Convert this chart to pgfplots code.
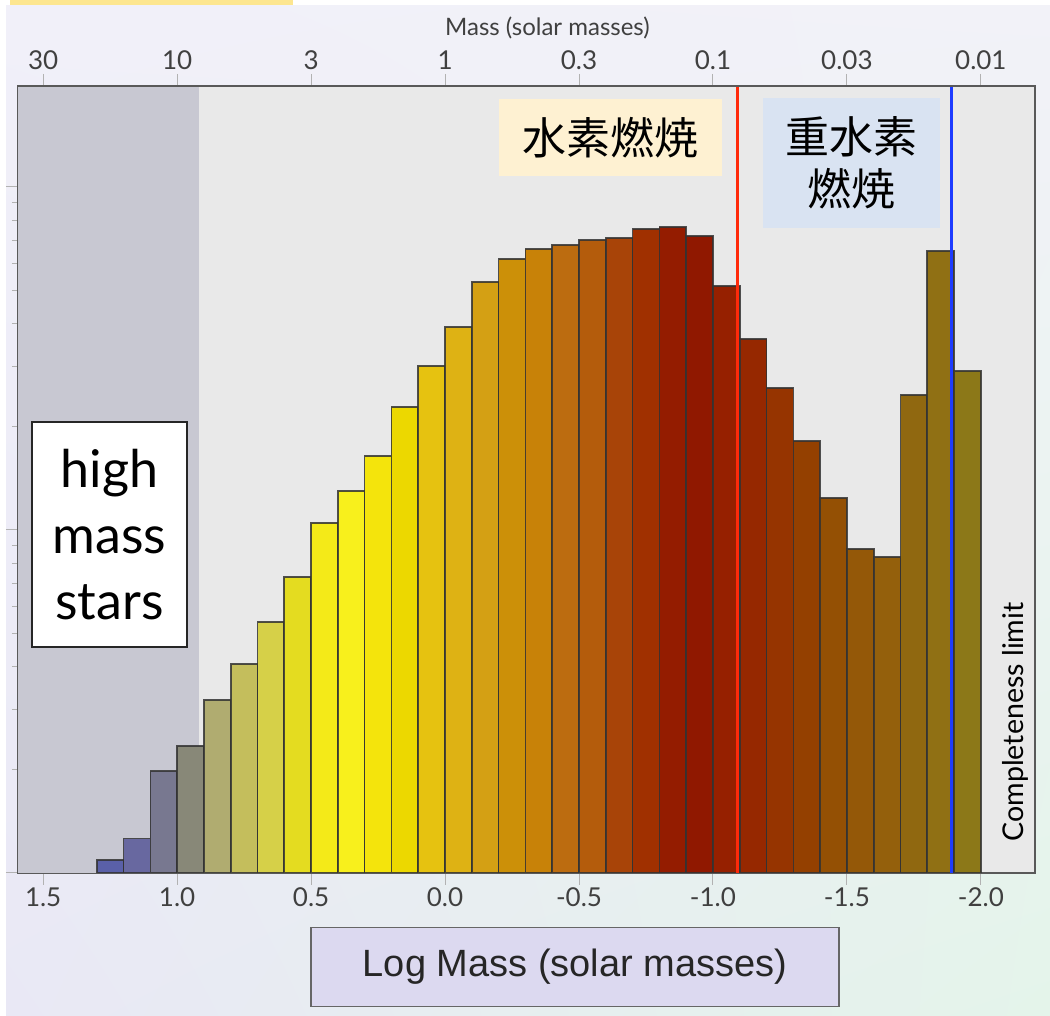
\documentclass[border=0pt]{standalone}
\usepackage{pgfplots}
\pgfplotsset{compat=1.18}
\usetikzlibrary{shadings}
\usepackage{fontspec}
\setmainfont{Lato}
\newfontfamily\cjk{Noto Sans CJK JP}
\newfontfamily\arialf{Liberation Sans}
\definecolor{bgUL}{HTML}{F1F0F9}
\definecolor{bgUR}{HTML}{F2F2F8}
\definecolor{bgLL}{HTML}{E9E8F5}
\definecolor{bgLR}{HTML}{E4F4EA}
\definecolor{topyellow}{HTML}{FDE690}
\definecolor{plotbg}{HTML}{E9E9E9}
\definecolor{highgrey}{HTML}{C8C8D2}
\definecolor{labelbg}{HTML}{DCD9F0}
\definecolor{hbg}{HTML}{FEF1D2}
\definecolor{dbg}{HTML}{D9E3F2}
\definecolor{hline}{HTML}{FF2A0A}
\definecolor{dline}{HTML}{1E3CFF}
\definecolor{c1}{HTML}{5A60A8}
\definecolor{c2}{HTML}{6868A0}
\definecolor{c3}{HTML}{787890}
\definecolor{c4}{HTML}{888878}
\definecolor{c5}{HTML}{B0AC70}
\definecolor{c6}{HTML}{C4BE5C}
\definecolor{c7}{HTML}{D6D048}
\definecolor{c8}{HTML}{E4DC20}
\definecolor{c9}{HTML}{F4EA18}
\definecolor{c10}{HTML}{F8F01C}
\definecolor{c11}{HTML}{F4E40C}
\definecolor{c12}{HTML}{ECD800}
\definecolor{c13}{HTML}{E6C210}
\definecolor{c14}{HTML}{DEB214}
\definecolor{c15}{HTML}{D4A014}
\definecolor{c16}{HTML}{CC9008}
\definecolor{c17}{HTML}{C88208}
\definecolor{c18}{HTML}{BC6C10}
\definecolor{c19}{HTML}{B45C0C}
\definecolor{c20}{HTML}{A84408}
\definecolor{c21}{HTML}{A03000}
\definecolor{c22}{HTML}{941C00}
\definecolor{c23}{HTML}{901800}
\definecolor{c24}{HTML}{962000}
\definecolor{c25}{HTML}{962800}
\definecolor{c26}{HTML}{963400}
\definecolor{c27}{HTML}{944000}
\definecolor{c28}{HTML}{945004}
\definecolor{c29}{HTML}{945808}
\definecolor{c30}{HTML}{94600C}
\definecolor{c31}{HTML}{906810}
\definecolor{c32}{HTML}{907014}
\definecolor{c33}{HTML}{8C7818}
\newcommand{\mybar}[3]{\addplot[fill=#1, draw=black!80, draw opacity=0.85, line width=0.8pt] coordinates {(#2,#3)};}
\begin{document}
\begin{tikzpicture}
\path[use as bounding box] (-9pt,-71.5pt) rectangle (516pt,436.5pt);
\shade[upper left=bgUL, upper right=bgUR, lower left=bgLL, lower right=bgLR] (-9pt,-71.5pt) rectangle (516pt,436.5pt);
\fill[white] (-9pt,434pt) rectangle (516pt,436.5pt);
\fill[white] (-9pt,-71.5pt) rectangle (-6pt,436.5pt);
\fill[topyellow] (-4pt,434pt) rectangle (137.5pt,436.5pt);
\begin{axis}[
  at={(0,0)}, anchor=south west, scale only axis,
  width=508.5pt, height=393.5pt,
  x dir=reverse, xmin=-2.202, xmax=1.594,
  ymode=log, ymin=1, ymax=197,
  axis background/.style={fill=plotbg},
  axis line style={draw=black!65, line width=0.9pt},
  ybar, bar width=0.1, bar shift=0pt,
  xtick={1.5,1,0.5,0,-0.5,-1,-1.5,-2},
  xticklabels={1.5,1.0,0.5,0.0,-0.5,-1.0,-1.5,-2.0},
  xtick pos=bottom, ytick pos=left,
  ytick={1,10,100},
  minor ytick={2,3,4,5,6,7,8,9,20,30,40,50,60,70,80,90},
  yticklabels={},
  tick align=outside, major tick length=6pt, minor tick length=3pt,
  tick style={gray!60, line width=0.5pt},
  xticklabel style={font=\fontsize{13}{15}\selectfont, text=black!75, yshift=2pt},
  xlabel={Log Mass (solar masses)},
  xlabel style={at={(axis description cs:0.5477,0)}, anchor=center, yshift=-47pt,
    draw=black!60, line width=0.8pt, fill=labelbg, minimum width=264pt, minimum height=39.5pt,
    font=\arialf\fontsize{19}{22}\selectfont, text=black!85},
]
\fill[highgrey] (axis cs:1.594,1) rectangle (axis cs:0.92,197);
\mybar{c1}{1.25}{1.09}
\mybar{c2}{1.15}{1.26}
\mybar{c3}{1.05}{1.98}
\mybar{c4}{0.95}{2.35}
\mybar{c5}{0.85}{3.19}
\mybar{c6}{0.75}{4.07}
\mybar{c7}{0.65}{5.39}
\mybar{c8}{0.55}{7.29}
\mybar{c9}{0.45}{10.5}
\mybar{c10}{0.35}{13.0}
\mybar{c11}{0.25}{16.4}
\mybar{c12}{0.15}{22.8}
\mybar{c13}{0.05}{30.1}
\mybar{c14}{-0.05}{39.1}
\mybar{c15}{-0.15}{52.8}
\mybar{c16}{-0.25}{61.7}
\mybar{c17}{-0.35}{65.9}
\mybar{c18}{-0.45}{67.8}
\mybar{c19}{-0.55}{70.0}
\mybar{c20}{-0.65}{71.0}
\mybar{c21}{-0.75}{75.4}
\mybar{c22}{-0.85}{76.4}
\mybar{c23}{-0.95}{72.0}
\mybar{c24}{-1.05}{51.4}
\mybar{c25}{-1.15}{36.0}
\mybar{c26}{-1.25}{25.9}
\mybar{c27}{-1.35}{18.2}
\mybar{c28}{-1.45}{12.4}
\mybar{c29}{-1.55}{8.80}
\mybar{c30}{-1.65}{8.34}
\mybar{c31}{-1.75}{24.7}
\mybar{c32}{-1.85}{65.1}
\mybar{c33}{-1.95}{29.1}
\draw[hline, line width=1.5pt] (axis cs:-1.09,1) -- (axis cs:-1.09,197);
\draw[dline, line width=1.5pt] (axis cs:-1.89,1) -- (axis cs:-1.89,197);
\end{axis}
\begin{axis}[
  at={(0,0)}, anchor=south west, scale only axis,
  width=508.5pt, height=393.5pt,
  x dir=reverse, xmin=-2.202, xmax=1.594, ymin=0, ymax=1,
  axis x line*=top, axis y line=none,
  axis line style={-, draw=black!65, line width=0.9pt},
  xtick={1.5,1,0.5,0,-0.5,-1,-1.5,-2},
  xticklabels={30,10,3,1,0.3,0.1,0.03,0.01},
  tick align=outside, major tick length=6pt,
  tick style={gray!60, line width=0.5pt},
  xticklabel style={font=\fontsize{13}{15}\selectfont, text=black!75, yshift=-1.5pt},
  xlabel={Mass (solar masses)},
  xlabel style={at={(axis description cs:0.5206,1)}, anchor=center, yshift=29pt,
    font=\fontsize{12}{14}\selectfont, text=black!75},
]
\end{axis}
\node[fill=hbg, minimum width=111.5pt, minimum height=38.5pt, inner sep=0pt,
  font=\cjk\fontsize{22}{26}\selectfont] at (296pt,367.5pt) {水素燃焼};
\node[fill=dbg, minimum width=88.5pt, minimum height=65pt, inner sep=0pt, align=center,
  font=\cjk\fontsize{22}{26}\selectfont] at (416.75pt,355pt) {重水素\\燃焼};
\node[draw=black!85, line width=1pt, fill=white, minimum width=77.5pt, minimum height=112.5pt,
  inner sep=0pt, align=center, font=\fontsize{26}{33}\selectfont] at (45.75pt,169.25pt) {high\\mass\\stars};
\node[rotate=90, font=\fontsize{14.3}{17}\selectfont] at (498.5pt,75.5pt) {Completeness limit};
\end{tikzpicture}
\end{document}
